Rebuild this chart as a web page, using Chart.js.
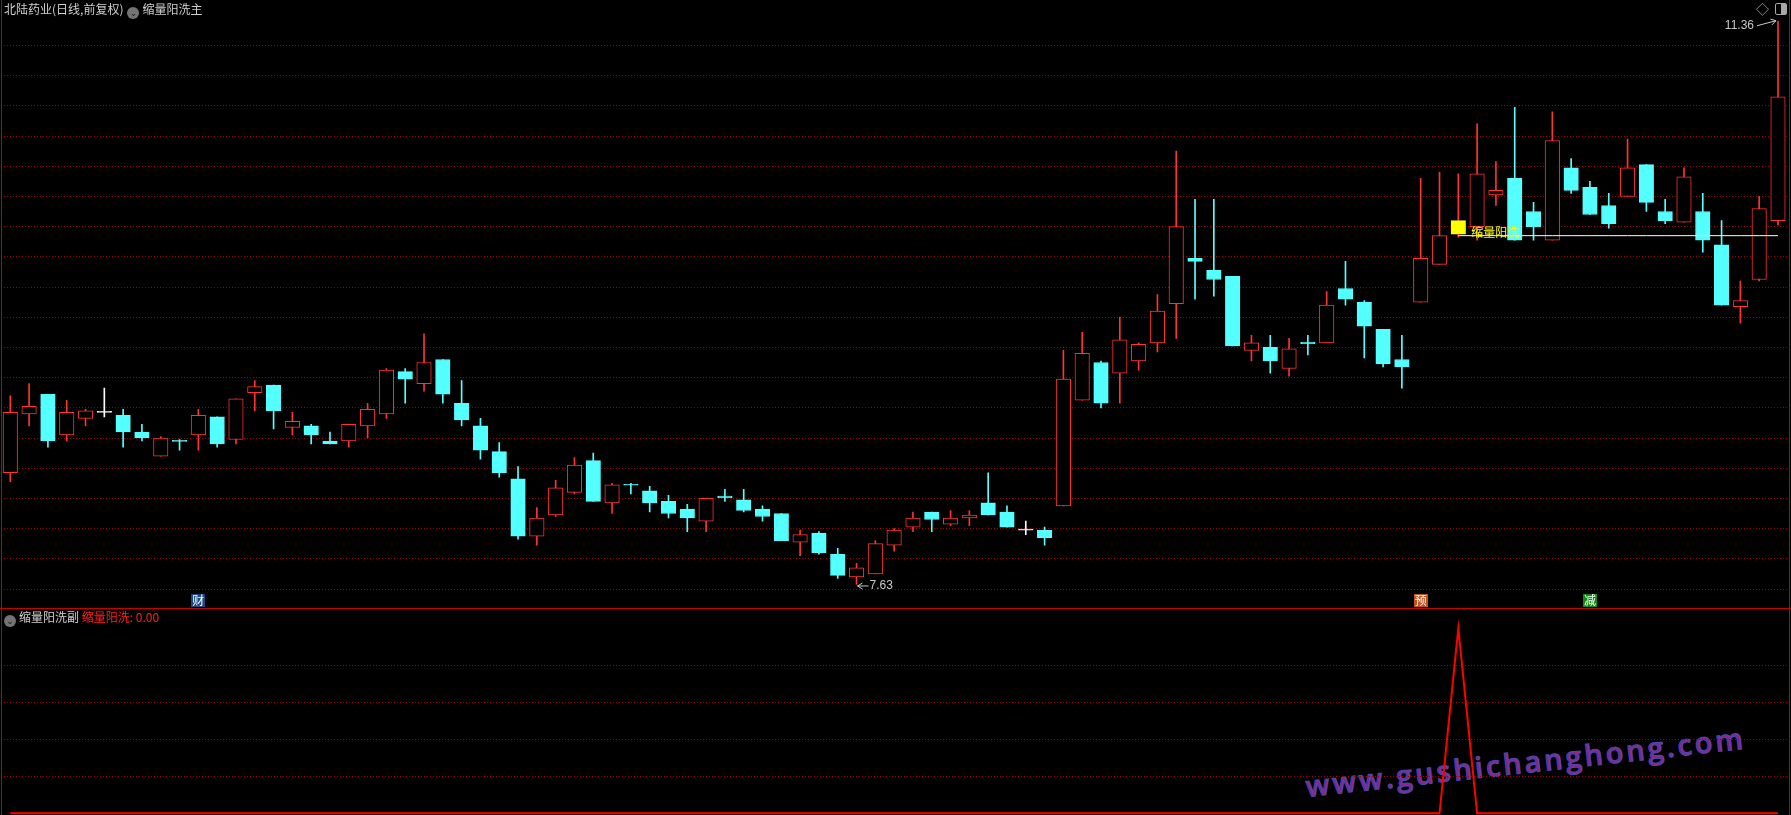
<!DOCTYPE html>
<html>
<head>
<meta charset="utf-8">
<title>北陆药业 缩量阳洗</title>
<script src="https://cdn.jsdelivr.net/npm/chart.js@4.4.0/dist/chart.umd.min.js"></script>
<style>
    html, body { margin: 0; padding: 0; background: #000; }
    #wrap { position: relative; width: 1791px; height: 815px; overflow: hidden; background: #000;
            font-family: "Noto Sans CJK SC", "Noto Sans", sans-serif; }
    #mainBox { position: absolute; left: 0; top: 0; width: 1791px; height: 608px; }
    #subBox { position: absolute; left: 0; top: 608px; width: 1791px; height: 207px; }
    .line { position: absolute; background: #c80000; }
    .hdr { position: absolute; font-size: 12px; line-height: 14px; color: #cfcfcf; white-space: nowrap; }
    .ico { display: inline-block; width: 12px; height: 12px; border-radius: 50%; background: #747474;
           color: #1a1a1a; font-size: 9px; line-height: 12px; text-align: center; vertical-align: -2px;
           margin: 0 3px 0 4px; font-family: "DejaVu Sans", sans-serif; }
    .red { color: #ff2020; }
    #wm { position: absolute; left: 1307px; top: 771px; font-family: "Open Sans", sans-serif; font-weight: 600;
          font-size: 29px; line-height: 29px; letter-spacing: 3px; color: #86288c; white-space: nowrap;
          -webkit-text-stroke: 1px #4a48b0; transform-origin: 0 26px; transform: rotate(-6.3deg); }
    #tools { position: absolute; left: 1756px; top: 2px; color: #a8a8a8; font-size: 13px; line-height: 14px; }
    #tools .box { display: inline-block; width: 10px; height: 10px; border: 1px solid #a8a8a8; border-radius: 2px;
                  margin-left: 6px; vertical-align: -1px; background: linear-gradient(90deg, transparent 50%, #a8a8a8 50%); }
</style>
</head>
<body>
<div id="wrap">
    <div id="wm">www.gushichanghong.com</div>
    <div id="mainBox"><canvas id="mainChart" width="1791" height="608"></canvas></div>
    <div id="subBox"><canvas id="subChart" width="1791" height="207"></canvas></div>
    <div class="line" style="left:1px;top:0;width:1px;height:815px;"></div>
    <div class="line" style="left:1789px;top:0;width:1px;height:815px;"></div>
    <div class="line" style="left:0;top:608px;width:1791px;height:1px;"></div>
    <div class="hdr" style="left:4px;top:2px;">北陆药业(日线,前复权)<span class="ico">&#8964;</span>缩量阳洗主</div>
    <div class="hdr" style="left:0;top:610px;"><span class="ico">&#8964;</span>缩量阳洗副 <span class="red">缩量阳洗: 0.00</span></div>
    <div id="tools">&#9671;<span class="box"></span></div>
</div>
<script>
    'use strict';

    // daily bars (oldest first)
    var opens = [8.37, 8.76, 8.89, 8.62, 8.73, 8.77, 8.75, 8.64, 8.48, 8.585,
        8.62, 8.74, 8.59, 8.90, 8.95, 8.67, 8.68, 8.58, 8.58, 8.68,
        8.76, 9.04, 8.96, 9.12, 8.83, 8.68, 8.51, 8.33, 7.95, 8.09,
        8.24, 8.45, 8.17, 8.293, 8.25, 8.18, 8.13, 8.05, 8.215, 8.19,
        8.13, 8.10, 7.91, 7.97, 7.83, 7.68, 7.70, 7.89, 8.01, 8.11,
        8.03, 8.07, 8.17, 8.11, 7.99, 7.99, 8.15, 8.85, 9.10, 9.03,
        9.11, 9.23, 9.49, 9.79, 9.71, 9.67, 9.18, 9.20, 9.06, 9.235,
        9.23, 9.59, 9.50, 9.32, 9.12, 9.50, 9.75, 9.95, 10.00, 10.21,
        10.32, 10.10, 9.91, 10.39, 10.26, 10.14, 10.20, 10.41, 10.10, 10.03,
        10.10, 9.88, 9.47, 9.65, 10.04];
    var highs = [8.88, 8.96, 8.89, 8.85, 8.79, 8.93, 8.79, 8.69, 8.61, 8.59,
        8.79, 8.74, 8.86, 8.98, 8.95, 8.77, 8.69, 8.64, 8.69, 8.83,
        9.06, 9.06, 9.29, 9.12, 8.98, 8.73, 8.57, 8.41, 8.14, 8.32,
        8.47, 8.50, 8.30, 8.30, 8.28, 8.22, 8.16, 8.20, 8.26, 8.26,
        8.15, 8.10, 7.99, 7.98, 7.87, 7.77, 7.92, 8.00, 8.11, 8.11,
        8.12, 8.12, 8.37, 8.15, 8.05, 8.01, 9.18, 9.30, 9.11, 9.40,
        9.23, 9.55, 10.50, 10.18, 10.18, 9.67, 9.28, 9.28, 9.26, 9.28,
        9.57, 9.77, 9.51, 9.32, 9.28, 10.32, 10.36, 10.35, 10.68, 10.43,
        10.79, 10.16, 10.76, 10.45, 10.30, 10.22, 10.58, 10.41, 10.18, 10.39,
        10.22, 10.04, 9.64, 10.20, 11.36];
    var lows = [8.31, 8.68, 8.54, 8.58, 8.68, 8.74, 8.54, 8.58, 8.48, 8.52,
        8.52, 8.54, 8.56, 8.78, 8.66, 8.62, 8.56, 8.56, 8.54, 8.60,
        8.73, 8.83, 8.91, 8.83, 8.68, 8.46, 8.34, 7.93, 7.89, 8.08,
        8.23, 8.18, 8.10, 8.23, 8.11, 8.07, 7.98, 7.98, 8.18, 8.11,
        8.05, 7.92, 7.82, 7.83, 7.67, 7.63, 7.70, 7.85, 7.98, 7.98,
        8.02, 8.02, 8.09, 8.01, 7.96, 7.89, 8.15, 8.85, 8.80, 8.83,
        9.05, 9.17, 9.26, 9.52, 9.54, 9.21, 9.11, 9.03, 9.01, 9.15,
        9.23, 9.48, 9.13, 9.07, 8.93, 9.50, 9.75, 9.93, 9.91, 10.14,
        9.91, 9.91, 9.91, 10.22, 10.08, 9.99, 10.20, 10.10, 10.02, 10.03,
        9.83, 9.48, 9.36, 9.64, 10.01];
    var closes = [8.77, 8.81, 8.58, 8.77, 8.78, 8.77, 8.64, 8.60, 8.60, 8.578,
        8.75, 8.56, 8.86, 8.94, 8.78, 8.71, 8.62, 8.56, 8.69, 8.79,
        9.05, 8.99, 9.10, 8.89, 8.72, 8.52, 8.37, 7.95, 8.07, 8.27,
        8.42, 8.18, 8.29, 8.287, 8.17, 8.10, 8.07, 8.20, 8.205, 8.12,
        8.08, 7.92, 7.96, 7.84, 7.69, 7.74, 7.90, 7.99, 8.07, 8.06,
        8.07, 8.09, 8.09, 8.01, 7.99, 7.94, 8.99, 9.16, 8.83, 9.25,
        9.22, 9.44, 10.00, 9.77, 9.65, 9.21, 9.23, 9.11, 9.19, 9.225,
        9.48, 9.52, 9.34, 9.09, 9.07, 9.79, 9.94, 10.04, 10.35, 10.24,
        9.91, 10.00, 10.57, 10.24, 10.08, 10.02, 10.39, 10.16, 10.04, 10.33,
        9.91, 9.48, 9.51, 10.12, 10.86];

    // 缩量阳洗 signal (sub panel)
    var washSignal = [0, 0, 0, 0, 0, 0, 0, 0, 0, 0,
        0, 0, 0, 0, 0, 0, 0, 0, 0, 0,
        0, 0, 0, 0, 0, 0, 0, 0, 0, 0,
        0, 0, 0, 0, 0, 0, 0, 0, 0, 0,
        0, 0, 0, 0, 0, 0, 0, 0, 0, 0,
        0, 0, 0, 0, 0, 0, 0, 0, 0, 0,
        0, 0, 0, 0, 0, 0, 0, 0, 0, 0,
        0, 0, 0, 0, 0, 0, 0, 1, 0, 0,
        0, 0, 0, 0, 0, 0, 0, 0, 0, 0,
        0, 0, 0, 0, 0];

    var supportLevel = 9.94;   // white line drawn from the signal bar on
    var supportStart = 77;

    var priceGrid = [7.6, 7.8, 8.0, 8.2, 8.4, 8.6, 8.8, 9.0, 9.2, 9.4,
        9.6, 9.8, 10.0, 10.2, 10.4, 10.6, 10.8, 11.0, 11.2];
    var signalGrid = [0.2, 0.4, 0.6, 0.8];

    var markerDays = [10, 75, 84];
    var markerTexts = ['财', '预', '减'];
    var markerColors = ['#1b4784', '#c2501c', '#118a11'];

    var UP = '#ff3232', DOWN = '#54ffff', FLAT = '#ffffff', SIGNAL = '#ffff00';
    var GRID = '#a00000';

    var days = opens.map(function (v, i) { return i + 1; });

    function kind(i) {
        if (washSignal[i]) return 'signal';
        if (closes[i] > opens[i]) return 'up';
        if (closes[i] < opens[i]) return 'down';
        return 'flat';
    }
    var bodyFill = days.map(function (d, i) {
        return {up: '#000000', down: DOWN, flat: FLAT, signal: SIGNAL}[kind(i)];
    });
    var bodyEdge = days.map(function (d, i) {
        return {up: UP, down: DOWN, flat: FLAT, signal: SIGNAL}[kind(i)];
    });
    var wickColor = days.map(function (d, i) {
        return {up: UP, down: DOWN, flat: FLAT, signal: UP}[kind(i)];
    });

    var pad = {left: 0.9, right: 3.6, top: 0, bottom: 0};

    function valueAxis(min, max, grid) {
        return {
            min: min,
            max: max,
            afterFit: function (s) { s.width = 0; },
            afterBuildTicks: function (s) { s.ticks = grid.map(function (v) { return {value: v}; }); },
            ticks: {display: false},
            grid: {color: GRID, lineWidth: 1, drawTicks: false},
            border: {display: false, dash: [1, 2]}
        };
    }

    function arrowHead(ctx, x, y, dx, dy) {
        var len = Math.sqrt(dx * dx + dy * dy), ux = dx / len, uy = dy / len;
        ctx.beginPath();
        ctx.moveTo(x - ux * 5 - uy * 3, y - uy * 5 + ux * 3);
        ctx.lineTo(x, y);
        ctx.lineTo(x - ux * 5 + uy * 3, y - uy * 5 - ux * 3);
        ctx.stroke();
    }

    var priceNotes = {
        id: 'priceNotes',
        afterDatasetsDraw: function (chart) {
            var ctx = chart.ctx, xs = chart.scales.x, ys = chart.scales.y;
            var hi = highs.indexOf(Math.max.apply(null, highs));
            var lo = lows.indexOf(Math.min.apply(null, lows));
            ctx.save();
            ctx.strokeStyle = '#c8c8c8';
            ctx.fillStyle = '#c8c8c8';
            ctx.lineWidth = 1;
            ctx.font = '12px "Liberation Sans", Arial, sans-serif';
            ctx.textBaseline = 'middle';

            // highest price with its arrow
            var hx = xs.getPixelForValue(hi), hy = ys.getPixelForValue(highs[hi]);
            ctx.textAlign = 'right';
            ctx.fillText(highs[hi].toFixed(2), hx - 24, hy + 4);
            ctx.beginPath();
            ctx.moveTo(hx - 21, hy + 4.5);
            ctx.lineTo(hx - 2, hy - 0.5);
            ctx.stroke();
            arrowHead(ctx, hx - 2, hy - 0.5, 19, -5);

            // lowest price
            var lx = xs.getPixelForValue(lo), ly = ys.getPixelForValue(lows[lo]);
            ctx.textAlign = 'left';
            ctx.fillText(lows[lo].toFixed(2), lx + 13, ly + 1.5);
            ctx.beginPath();
            ctx.moveTo(lx + 12, ly + 1.5);
            ctx.lineTo(lx + 1, ly + 1.5);
            ctx.stroke();
            arrowHead(ctx, lx + 1, ly + 1.5, -11, 0);

            // signal caption
            var sx = xs.getPixelForValue(supportStart), sy = ys.getPixelForValue(supportLevel);
            ctx.fillStyle = SIGNAL;
            ctx.font = '12px "Noto Sans CJK SC", sans-serif';
            ctx.fillText('缩量阳洗', sx + 13, sy - 3);

            // event markers along the bottom
            ctx.textAlign = 'center';
            var by = chart.chartArea.bottom;
            markerDays.forEach(function (d, k) {
                var mx = xs.getPixelForValue(d);
                ctx.fillStyle = markerColors[k];
                ctx.fillRect(Math.round(mx) - 7, by - 14, 14, 13);
                ctx.fillStyle = '#ffffff';
                ctx.fillText(markerTexts[k], mx, by - 7.5);
            });
            ctx.restore();
        }
    };

    new Chart(document.getElementById('mainChart'), {
        type: 'bar',
        data: {
            labels: days,
            datasets: [{
                type: 'line',
                label: 'support',
                data: days.map(function (d, i) { return i >= supportStart ? supportLevel : null; }),
                borderColor: '#ffffff',
                borderWidth: 1,
                pointRadius: 0,
                order: 0
            }, {
                label: 'body',
                data: days.map(function (d, i) { return [opens[i], closes[i]]; }),
                backgroundColor: bodyFill,
                borderColor: bodyEdge,
                borderWidth: 1,
                borderSkipped: false,
                barThickness: 14.5,
                minBarLength: 1,
                grouped: false,
                order: 1
            }, {
                label: 'wick',
                data: days.map(function (d, i) { return [lows[i], highs[i]]; }),
                backgroundColor: wickColor,
                borderWidth: 0,
                barThickness: 1,
                grouped: false,
                order: 2
            }]
        },
        options: {
            responsive: false,
            animation: false,
            layout: {padding: pad},
            plugins: {legend: {display: false}, tooltip: {enabled: false}},
            scales: {
                x: {display: false, offset: true},
                y: valueAxis(7.4742, 11.5007, priceGrid)
            }
        },
        plugins: [priceNotes]
    });

    new Chart(document.getElementById('subChart'), {
        type: 'line',
        data: {
            labels: days,
            datasets: [{
                label: '缩量阳洗',
                data: washSignal,
                borderColor: '#ff0000',
                borderWidth: 2,
                pointRadius: 0,
                tension: 0
            }]
        },
        options: {
            responsive: false,
            animation: false,
            layout: {padding: pad},
            plugins: {legend: {display: false}, tooltip: {enabled: false}},
            scales: {
                x: {display: false, offset: true},
                y: valueAxis(-0.0092, 1.1097, signalGrid)
            }
        }
    });
</script>
</body>
</html>
